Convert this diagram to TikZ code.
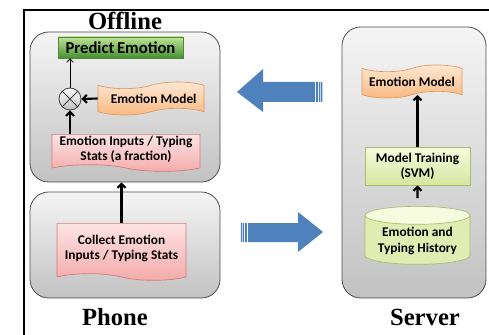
\documentclass[tikz,border=0pt]{standalone}
\usepackage{fontspec}
\setmainfont{Carlito}
\newfontfamily\titlefont{Liberation Serif}
\usetikzlibrary{shapes.symbols,shapes.geometric,arrows.meta}

\definecolor{arrowblue}{RGB}{79,129,189}
\definecolor{pinktop}{RGB}{253,228,228}
\definecolor{pinkbot}{RGB}{244,170,170}
\definecolor{pinkline}{RGB}{214,120,120}
\definecolor{orangetop}{RGB}{253,233,214}
\definecolor{orangebot}{RGB}{249,184,128}
\definecolor{orangeline}{RGB}{226,150,90}
\definecolor{greentop}{RGB}{246,250,222}
\definecolor{greenbot}{RGB}{216,230,160}
\definecolor{greenline}{RGB}{168,188,110}
\definecolor{predtop}{RGB}{190,226,150}
\definecolor{predbot}{RGB}{70,146,50}
\definecolor{predline}{RGB}{84,134,58}

\tikzset{every picture/.style={line width=0.75pt}}
\tikzset{
  panel/.style={draw=black!70, line width=0.6pt, rounded corners=14pt, top color=black!4, bottom color=black!24},
  boxtext/.style={font=\fontsize{10}{11.5}\selectfont\bfseries, align=center, inner sep=1pt},
  tapebox/.style={boxtext, tape, draw=orangeline, line width=0.5pt, top color=orangetop, bottom color=orangebot},
  docbox/.style={boxtext, tape, tape bend top=none, tape bend bottom=out and in, draw=pinkline, line width=0.5pt, top color=pinktop, bottom color=pinkbot},
  greenbox/.style={boxtext, rectangle, draw=greenline, line width=0.5pt, top color=greentop, bottom color=greenbot},
  title/.style={font=\titlefont\fontsize{18.5}{21}\selectfont\bfseries},
  conn/.style={-{Straight Barb[length=3pt,width=6pt]}, line width=1.6pt},
  thinconn/.style={-{Straight Barb[length=2.5pt,width=5pt]}, line width=0.6pt}
}

\begin{document}
\begin{tikzpicture}[x=0.75pt,y=0.75pt,yscale=-1,xscale=1]
        \useasboundingbox (0,0) rectangle (489,335);
        %Frame
        \draw [line width=1.1pt]  (24,335) -- (24,10) -- (489,10) ;

        %Panels
        \node (offline) at (125,107) [panel, minimum width=142.5pt, minimum height=112.5pt] {};
        \node (phone) at (125,245) [panel, minimum width=142.5pt, minimum height=79.5pt] {};
        \node (server) at (414,162.5) [panel, minimum width=108pt, minimum height=203.25pt] {};

        % Text Node
        \node (offlinelbl) at (125,21) [title] {Offline};
        % Text Node
        \node (phonelbl) at (115,317) [title] {Phone};
        % Text Node
        \node (serverlbl) at (425,317) [title] {Server};

        %Offline side
        \node (predict) at (120.5,47.5) [boxtext, font=\fontsize{12.5}{14}\selectfont\bfseries, rectangle, draw=predline, line width=0.6pt, top color=predtop, bottom color=predbot, minimum width=93.75pt, minimum height=15.75pt] {Predict\,Emotion};
        \node (mix) at (70,99) [circle, draw=black!75, line width=0.6pt, inner sep=0pt, minimum size=16.5pt, top color=white, bottom color=black!25,
            path picture={\draw [line width=0.6pt, black!75] (path picture bounding box.north west) -- (path picture bounding box.south east) (path picture bounding box.north east) -- (path picture bounding box.south west);}] {};
        \node (offmodel) at (151,98.5) [tapebox, minimum width=79.5pt, minimum height=24.75pt] {\hspace{4pt}Emotion Model};
        \node (inputs) at (126,149.5) [docbox, minimum width=111pt, minimum height=27.75pt] {Emotion Inputs / Typing\\Stats (a fraction)};
        \node (collect) at (121.5,248.5) [docbox, minimum width=96.75pt, minimum height=42.75pt] {Collect Emotion\\Inputs / Typing Stats};

        %Server side
        \node (srvmodel) at (412,81.5) [tapebox, minimum width=75pt, minimum height=24.75pt] {Emotion Model};
        \node (training) at (417.5,166) [greenbox, minimum width=78.75pt, minimum height=28.5pt] {Model Training\\(SVM)};
        \node (history) at (417.5,241) [boxtext, cylinder, shape border rotate=90, aspect=0.22, draw=greenline, line width=0.5pt,
            cylinder uses custom fill, cylinder body fill=greenbot!70!greentop, cylinder end fill=greentop, minimum width=78.75pt, minimum height=43.5pt] {Emotion and\\Typing History};

        %Connectors
        \draw [thinconn] (mix.north) -- (mix.north |- predict.south) ;
        \draw [conn] (offmodel.west) -- (mix.east) ;
        \draw [conn] (mix.south |- inputs.north) -- (mix.south) ;
        \draw [conn] (collect.north) -- (collect.north |- offline.south) ;
        \draw [conn] (training.north) -- (training.north |- srvmodel.south) ;
        \draw [conn] ([yshift=-6pt]history.north) -- (training.south) ;

        %Block arrow to the offline side
        \fill [arrowblue] (237,92) -- (263,69) -- (263,82) -- (315,82) -- (315,102) -- (263,102) -- (263,112) -- cycle ;
        \fill [arrowblue] (316,82) rectangle (317.8,102) (318.8,82) rectangle (320.4,102) (321.2,82) rectangle (322.4,102) ;
        %Block arrow to the server
        \fill [arrowblue] (323,232) -- (298,212) -- (298,223) -- (248,223) -- (248,242) -- (298,242) -- (298,252) -- cycle ;
        \fill [arrowblue] (246.8,223) rectangle (245,242) (244.2,223) rectangle (242.8,242) (242,223) rectangle (240.8,242) ;
\end{tikzpicture}
\end{document}
